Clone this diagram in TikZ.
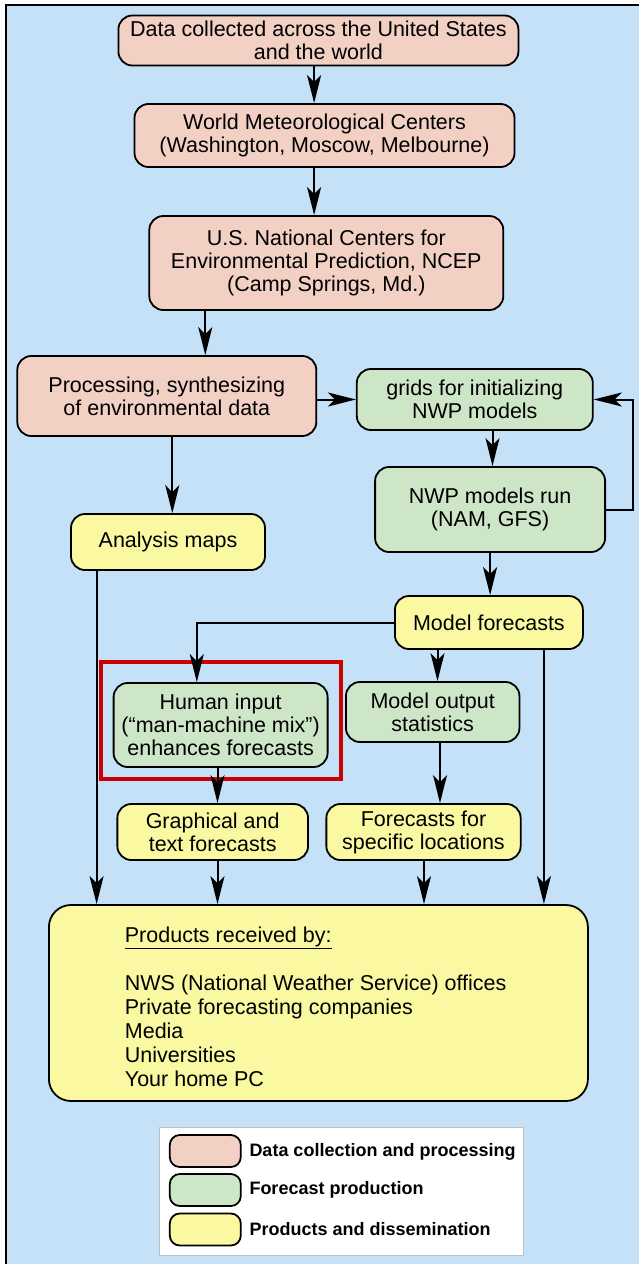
\documentclass[tikz,border=0pt]{standalone}
\usepackage{fontspec}
\setmainfont{Liberation Sans}
\usetikzlibrary{arrows.meta}
\definecolor{bgblue}{RGB}{197,225,248}
\definecolor{pinkc}{RGB}{242,208,196}
\definecolor{greenc}{RGB}{206,230,200}
\definecolor{yellowc}{RGB}{250,249,162}
\definecolor{redc}{RGB}{204,0,0}
\begin{document}
\begin{tikzpicture}[x=1pt,y=-1pt,
  box/.style={draw, line width=1.8pt, rounded corners=14pt, align=center, inner sep=0pt,
    font=\fontsize{21.5}{23}\selectfont},
  pinkbox/.style={box, fill=pinkc},
  greenbox/.style={box, fill=greenc},
  yellowbox/.style={box, fill=yellowc},
  arr/.style={-{Stealth[length=28pt,width=14pt,inset=7pt]}, line width=2pt},
  swatch/.style={draw, line width=1.8pt, rounded corners=10pt, minimum width=71pt, minimum height=32pt, inner sep=0pt},
  legtext/.style={anchor=west, inner sep=0pt, font=\fontsize{18}{20}\selectfont\bfseries}]
\useasboundingbox (0,0) rectangle (639,1264);
\fill[white] (0,0) rectangle (639,1264);
\fill[bgblue] (6,5) rectangle (639,1264);
\draw[line width=1.8pt] (6,1264) -- (6,5) -- (639,5);

% nodes
\node[pinkbox, minimum width=400pt, minimum height=50pt] (data) at (318.4,40.5)
  {Data collected across the United States\\and the world};
\node[pinkbox, minimum width=380pt, minimum height=63pt] (wmc) at (324.5,135.5)
  {World Meteorological Centers\\(Washington, Moscow, Melbourne)};
\node[pinkbox, minimum width=354pt, minimum height=94pt] (ncep) at (326.3,263)
  {U.S. National Centers for\\Environmental Prediction, NCEP\\(Camp Springs, Md.)};
\node[pinkbox, minimum width=299pt, minimum height=80pt] (proc) at (166.8,396)
  {Processing, synthesizing\\of environmental data};
\node[greenbox, minimum width=236pt, minimum height=61pt] (grids) at (474.8,399.5)
  {grids for initializing\\NWP models};
\node[greenbox, minimum width=230pt, minimum height=85pt] (nwp) at (490.1,509.5)
  {NWP models run\\(NAM, GFS)};
\node[yellowbox, minimum width=194pt, minimum height=56pt] (ana) at (168,542)
  {Analysis maps};
\node[yellowbox, minimum width=188pt, minimum height=53pt] (mf) at (488.9,622.5)
  {Model forecasts};
\node[greenbox, minimum width=214pt, minimum height=84pt] (human) at (220.6,725)
  {Human input\\(“man-machine mix”)\\enhances forecasts};
\node[greenbox, minimum width=173.5pt, minimum height=60pt] (mos) at (432.7,712)
  {Model output\\statistics};
\node[yellowbox, minimum width=190.7pt, minimum height=56pt] (graph) at (212.7,832)
  {Graphical and\\text forecasts};
\node[yellowbox, minimum width=194.3pt, minimum height=56pt] (fsl) at (423.5,832)
  {Forecasts for\\specific locations};
\node[yellowbox, rounded corners=22pt, minimum width=539pt, minimum height=196pt] (prod) at (318.4,1003) {};
\node[anchor=north west, inner sep=0pt, align=left, font=\fontsize{21.5}{24}\selectfont] (prodtext) at (124.7,927)
  {\underline{Products received by:}\\[24pt]
   NWS (National Weather Service) offices\\
   Private forecasting companies\\
   Media\\
   Universities\\
   Your home PC};

% highlight
\draw[redc, line width=4pt] (101.4,662) rectangle (341,779);

% connectors
\draw[arr] ([xshift=-4.3pt]data.south) -- ([xshift=-4.3pt]data.south |- wmc.north);
\draw[arr] ([xshift=-10.4pt]wmc.south) -- ([xshift=-10.4pt]wmc.south |- ncep.north);
\draw[arr] ([xshift=-121pt]ncep.south) -- ([xshift=-121pt]ncep.south |- proc.north);
\draw[arr] (proc.east |- grids.west) -- (grids.west);
\draw[arr] ([xshift=17.7pt]grids.south) -- ([xshift=17.7pt]grids.south |- nwp.north);
\draw[arr] (nwp.east) -- ++(26.8,0) |- (grids.east);
\draw[arr] ([xshift=5.5pt]proc.south) -- ([xshift=5.5pt]proc.south |- ana.north);
\draw[arr] (nwp.south) -- (nwp.south |- mf.north);
\draw[arr] (mf.west) -| ([xshift=-23.8pt]human.north);
\draw[arr] ([xshift=-51.4pt]mf.south) -- ([xshift=-51.4pt]mf.south |- mos.north);
\draw[arr] ([xshift=55pt]mf.south) -- ([xshift=55pt]mf.south |- prod.north);
\draw[arr] ([xshift=-71.4pt]ana.south) -- ([xshift=-71.4pt]ana.south |- prod.north);
\draw[arr] ([xshift=-3.1pt]human.south) -- ([xshift=-3.1pt]human.south |- graph.north);
\draw[arr] ([xshift=7.3pt]mos.south) -- ([xshift=7.3pt]mos.south |- fsl.north);
\draw[arr] ([xshift=4.8pt]graph.south) -- ([xshift=4.8pt]graph.south |- prod.north);
\draw[arr] ([xshift=0.5pt]fsl.south) -- ([xshift=0.5pt]fsl.south |- prod.north);

% legend
\node[draw=black!25, fill=white, line width=1pt, minimum width=364pt, minimum height=128pt, inner sep=0pt] (legend) at (341,1191) {};
\node[swatch, fill=pinkc] (sw1) at (205.3,1151) {};
\node[swatch, fill=greenc] (sw2) at (205.3,1190) {};
\node[swatch, fill=yellowc] (sw3) at (205.3,1229.5) {};
\node[legtext] (lt1) at (249.3,1152) {Data collection and processing};
\node[legtext] (lt2) at (249.3,1190) {Forecast production};
\node[legtext] (lt3) at (249.3,1229) {Products and dissemination};
\end{tikzpicture}
\end{document}
